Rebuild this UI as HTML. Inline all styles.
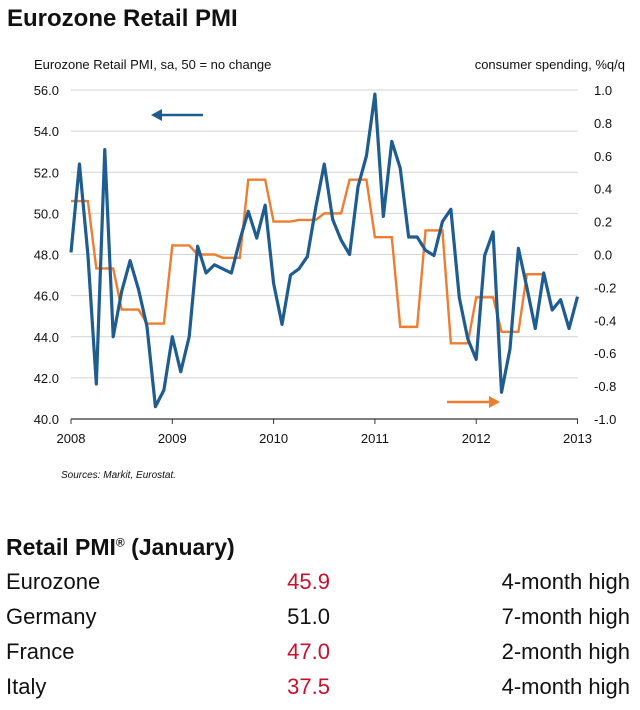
<!DOCTYPE html>
<html><head><meta charset="utf-8"><style>
body{margin:0;background:#fff;font-family:"Liberation Sans",sans-serif;}
#wrap{position:relative;width:640px;height:710px;overflow:hidden;}
.t{position:absolute;white-space:nowrap;color:#111;}
</style></head><body>
<div id="wrap">
<div class="t" style="left:7px;top:5px;font-size:24px;font-weight:bold;">Eurozone Retail PMI</div>
<svg id="chart" width="640" height="500" style="position:absolute;left:0;top:0"></svg>
<div class="t" style="left:6px;top:534px;font-size:23px;font-weight:bold;">Retail PMI<sup style="font-size:12px">®</sup> (January)</div>
<div id="tbl"></div>
</div>
<script>
const months = 61;
const pmi = [48.1,52.4,48.0,41.7,53.1,44.0,46.2,47.7,46.3,44.5,40.6,41.4,44.0,42.3,44.0,48.4,47.1,47.5,47.3,47.1,48.7,50.1,48.8,50.4,46.6,44.6,47.0,47.3,47.9,50.3,52.4,49.7,48.7,48.0,51.3,52.8,55.8,49.85,53.5,52.2,48.85,48.85,48.2,47.95,49.6,50.2,45.9,43.9,42.9,47.95,49.1,41.3,43.4,48.3,46.4,44.4,47.1,45.3,45.8,44.4,45.95];
const spending = [0.325,-0.085,-0.335,-0.42,0.055,0.0,-0.02,0.455,0.2,0.21,0.25,0.455,0.105,-0.44,0.146,-0.54,-0.26,-0.47,-0.12];
const leftTicks = ["56.0","54.0","52.0","50.0","48.0","46.0","44.0","42.0","40.0"];
const rightTicks = ["1.0","0.8","0.6","0.4","0.2","0.0","-0.2","-0.4","-0.6","-0.8","-1.0"];
const years = ["2008","2009","2010","2011","2012","2013"];
const rows = [["Eurozone","45.9","4-month high",true],["Germany","51.0","7-month high",false],["France","47.0","2-month high",true],["Italy","37.5","4-month high",true]];

const X0=71,PXM=101.3/12,Y56=90,Y40=419;
const xm=m=>X0+m*PXM;
const yl=v=>Y56+(56-v)*(Y40-Y56)/16;
const yr=v=>Y56+(1-v)*(Y40-Y56)/2;
const svg=document.getElementById('chart');
const NS='http://www.w3.org/2000/svg';
function mk(tag,attrs,name){const e=document.createElementNS(NS,tag);for(const k in attrs)e.setAttribute(k,attrs[k]);


svg.appendChild(e);return e;}
function txt(x,y,s,anchor,size,name){const e=mk('text',{x:x,y:y,'text-anchor':anchor,'font-size':size,fill:'#111','font-family':'Liberation Sans, sans-serif'},name);e.textContent=s;return e;}
leftTicks.forEach((s,i)=>{const v=parseFloat(s);const y=yl(v);
 if(i<leftTicks.length-1) mk('line',{x1:X0,x2:578,y1:y,y2:y,stroke:'#d4d4d4','stroke-width':1},'gridline');
 txt(59,y+5,s,'end',13,'left-tick-label');});
rightTicks.forEach(s=>{txt(594,yr(parseFloat(s))+5,s,'start',13,'right-tick-label');});
mk('line',{x1:X0,x2:578,y1:Y40,y2:Y40,stroke:'#333','stroke-width':1.2},'x-axis');
years.forEach((s,i)=>{const x=xm(i*12);mk('line',{x1:x,x2:x,y1:Y40,y2:Y40+5,stroke:'#333'},'x-tick');txt(x,443,s,'middle',13,'x-tick-label');});
txt(34,69,'Eurozone Retail PMI, sa, 50 = no change','start',13,'left-axis-title');
txt(625,69,'consumer spending, %q/q','end',13,'right-axis-title');
const st=txt(61,478,'Sources: Markit, Eurostat.','start',10,'sources-note');st.setAttribute('font-style','italic');
let op=[];spending.forEach((v,q)=>{for(let k=0;k<3;k++)op.push(xm(q*3+k)+','+yr(v));});
mk('polyline',{points:op.join(' '),fill:'none',stroke:'#ed7d31','stroke-width':2.4},'consumer-spending-line');
mk('polyline',{points:pmi.map((v,m)=>xm(m)+','+yl(v)).join(' '),fill:'none',stroke:'#1f5c8f','stroke-width':3.2,'stroke-linejoin':'round'},'retail-pmi-line');
mk('line',{x1:203,x2:160,y1:115,y2:115,stroke:'#1f5c8f','stroke-width':2.5},'left-axis-arrow');
mk('polygon',{points:'151,115 162,109 162,121',fill:'#1f5c8f'},'left-axis-arrowhead');
mk('line',{x1:447,x2:490,y1:402,y2:402,stroke:'#ed7d31','stroke-width':2.5},'right-axis-arrow');
mk('polygon',{points:'500,402 489,396 489,408',fill:'#ed7d31'},'right-axis-arrowhead');
const tbl=document.getElementById('tbl');
rows.forEach((r,i)=>{const top=569+i*35;
 [[r[0],'left:6px',false],[r[1],'right:310px',r[3]],[r[2],'right:10px',false]].forEach((c,j)=>{
  const d=document.createElement('div');d.className='t';d.setAttribute('style',c[1]+';top:'+top+'px;font-size:22px;color:'+(c[2]?'#c8102e':'#111'));
  d.textContent=c[0];
  
  
  tbl.appendChild(d);});});
</script>
</body></html>
